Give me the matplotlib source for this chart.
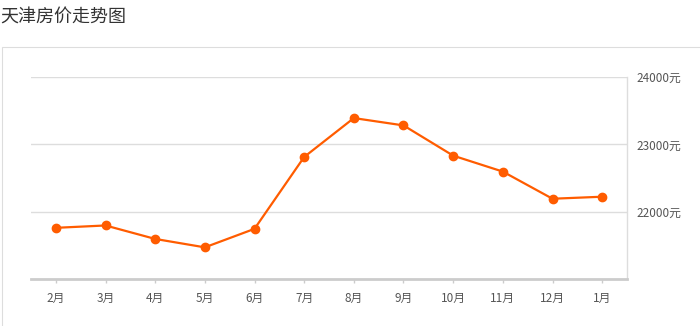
import matplotlib
matplotlib.use("Agg")
import matplotlib.pyplot as plt
from matplotlib.patches import Rectangle

plt.rcParams['font.family'] = ['Noto Sans CJK SC', 'DejaVu Sans']

title = "天津房价走势图"
months = ["2月", "3月", "4月", "5月", "6月", "7月", "8月", "9月", "10月", "11月", "12月", "1月"]
prices = [21760, 21795, 21595, 21470, 21745, 22812, 23390, 23281, 22832, 22595, 22192, 22222]
yticks = [22000, 23000, 24000]
ytick_labels = ["22000元", "23000元", "24000元"]

W, H = 700, 326
fig = plt.figure(figsize=(W / 100, H / 100), dpi=100)

# outer panel border
fig.patches.append(Rectangle((1.5 / W, -0.1), 1.2, 1.1 - 46.5 / H,
                             transform=fig.transFigure, fill=False,
                             edgecolor="#dddddd", linewidth=0.8))

fig.text(0.0, 1 - 18 / H, title, fontsize=13, color="#333333",
         ha="left", va="center")

left, right, top, bottom = 31, 627, 77, 279
ax = fig.add_axes([left / W, 1 - bottom / H, (right - left) / W, (bottom - top) / H])

x = list(range(len(months)))
ax.plot(x, prices, color="#ff5c00", linewidth=1.6, marker="o", markersize=6,
        zorder=3, clip_on=False)

ax.set_xlim(-0.5, len(months) - 0.5)
ax.set_ylim(21000, 24000)
ax.set_xticks(x)
ax.set_xticklabels(months)
ax.set_yticks(yticks)
ax.set_yticklabels(ytick_labels)
ax.yaxis.tick_right()

for y in yticks:
    ax.axhline(y, color="#dddddd", linewidth=1.0, zorder=1)

for s in ["top", "left"]:
    ax.spines[s].set_visible(False)
ax.spines["right"].set_color("#dddddd")
ax.spines["right"].set_linewidth(1.0)
ax.spines["bottom"].set_color("#cccccc")
ax.spines["bottom"].set_linewidth(2.0)

ax.tick_params(axis="x", length=3, width=1, color="#cccccc", labelsize=8.5,
               labelcolor="#555555", pad=6)
ax.tick_params(axis="y", length=0, labelsize=8.5, labelcolor="#555555", pad=7)

fig.savefig("out.png", dpi=100)
